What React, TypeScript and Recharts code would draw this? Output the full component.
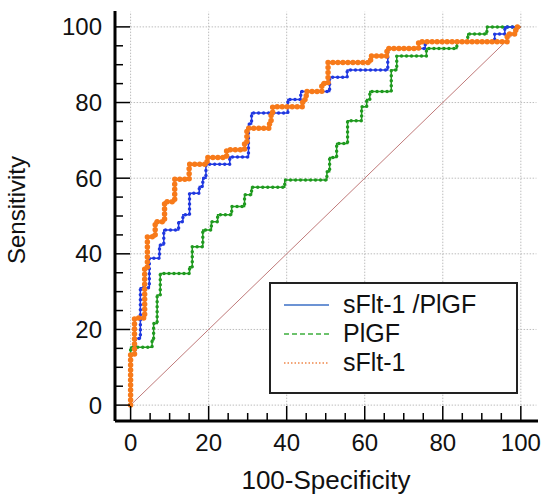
import { ComposedChart, Line, XAxis, YAxis, ReferenceLine, Legend } from 'recharts';

// staircase vertices: [100-specificity, sensitivity]
const ratioCurve = [
    [0, 0], [0, 13.5], [1.2, 13.5], [1.2, 17.6], [2.5, 17.6], [2.5, 31], [4.8, 31], [4.8, 38.8],
    [7.4, 38.8], [7.4, 42.3], [8.5, 42.3], [8.5, 46.3], [12.3, 46.3], [12.3, 48.5], [13.4, 48.5],
    [13.4, 50.3], [15.1, 50.3], [15.1, 56], [17.6, 56], [17.6, 57.8], [18.5, 57.8], [18.5, 60],
    [19.3, 60], [19.3, 63.7], [25.4, 63.7], [25.4, 65.6], [30.2, 65.6], [30.2, 74.3], [31, 74.3],
    [31, 77.2], [40.3, 77.2], [40.3, 80.8], [43.6, 80.8], [43.6, 82.9], [51, 82.9], [51, 86.7],
    [55.5, 86.7], [55.5, 88.6], [65.9, 88.6], [65.9, 94.3], [75.5, 94.3], [75.5, 96.1], [93.3, 96.1],
    [93.3, 98.1], [95.9, 98.1], [95.9, 100], [100, 100],
];

const plgfCurve = [
    [0, 0], [0, 15.3], [5.5, 15.3], [5.5, 17.2], [5.9, 17.2], [5.9, 21.6], [6.8, 21.6], [6.8, 29.1],
    [7.6, 29.1], [7.6, 34.8], [15.1, 34.8], [15.1, 36.6], [15.8, 36.6], [15.8, 41.9], [18.5, 41.9],
    [18.5, 46.3], [20.7, 46.3], [20.7, 48.5], [22.3, 48.5], [22.3, 50.3], [25.9, 50.3], [25.9, 52.5],
    [29.2, 52.5], [29.2, 55.6], [31, 55.6], [31, 57.6], [39.5, 57.6], [39.5, 59.5], [50.3, 59.5],
    [50.3, 61.7], [51, 61.7], [51, 65.5], [52.8, 65.5], [52.8, 69.2], [55.6, 69.2], [55.6, 75.2],
    [59.2, 75.2], [59.2, 78.9], [60.5, 78.9], [60.5, 80.8], [61.3, 80.8], [61.3, 82.9], [66.8, 82.9],
    [66.8, 88.6], [68.2, 88.6], [68.2, 92.3], [75.8, 92.3], [75.8, 94.3], [83.6, 94.3], [83.6, 96.1],
    [86.4, 96.1], [86.4, 98.1], [91.3, 98.1], [91.3, 100], [100, 100],
];

const sfltCurve = [
    [0, 0], [0, 13.5], [1, 13.5], [1, 23], [3.6, 23], [3.6, 36], [4.3, 36], [4.3, 44.5], [6.3, 44.5],
    [6.3, 48.5], [8.7, 48.5], [8.7, 53.8], [11.3, 53.8], [11.3, 59.7], [15, 59.7], [15, 63.7],
    [19.6, 63.7], [19.6, 65.5], [24.6, 65.5], [24.6, 67.5], [29.2, 67.5], [29.2, 69.3], [29.8, 69.3],
    [29.8, 73.2], [35.6, 73.2], [35.6, 75.2], [36, 75.2], [36, 77], [36.4, 77], [36.4, 78.9],
    [44.1, 78.9], [44.1, 80.8], [45, 80.8], [45, 82.9], [49, 82.9], [49, 85], [50.6, 85], [50.6, 90.6],
    [61.5, 90.6], [61.5, 92.3], [65.7, 92.3], [65.7, 94.3], [73.8, 94.3], [73.8, 96.1], [96.5, 96.1],
    [96.5, 98.1], [98.7, 98.1], [98.7, 100], [100, 100],
];

const diagonal = [[0, 0], [100, 100]];

const axisTicks = [0, 5, 10, 15, 20, 25, 30, 35, 40, 45, 50, 55, 60, 65, 70, 75, 80, 85, 90, 95, 100];
const gridValues = [0, 20, 40, 60, 80, 100];

const legendItems = [
    { name: 'sFlt-1 /PlGF', color: '#3b6fc6', dash: undefined },
    { name: 'PlGF', color: '#3cae3c', dash: '5 3' },
    { name: 'sFlt-1', color: '#f0874a', dash: '1.5 2' },
];

const toPoints = (pairs: number[][]) => pairs.map(([x, y]) => ({ x, y }));

const FONT = '"Liberation Sans", Arial, sans-serif';

const XTick = ({ x, y, payload }: any) => {
    const major = payload.value % 20 === 0;
    return (
        <g>
            <line x1={x} x2={x} y1={y} y2={y - (major ? 15 : 8)} stroke={'#000'} strokeWidth={1.5} />
            {major && (
                <text x={x} y={y + 30} textAnchor={'middle'} fontSize={24} fontFamily={FONT} fill={'#111'}>
                    {payload.value}
                </text>
            )}
        </g>
    );
};

const YTick = ({ x, y, payload }: any) => {
    const major = payload.value % 20 === 0;
    return (
        <g>
            <line x1={x} x2={x + (major ? 15 : 8)} y1={y} y2={y} stroke={'#000'} strokeWidth={1.5} />
            {major && (
                <text x={x - 13} y={y + 8.5} textAnchor={'end'} fontSize={24} fontFamily={FONT} fill={'#111'}>
                    {payload.value}
                </text>
            )}
        </g>
    );
};

const XTitle = () => (
    <text x={326} y={489} textAnchor={'middle'} fontSize={26} fontFamily={FONT} fill={'#111'}>
        100-Specificity
    </text>
);

const YTitle = () => (
    <text x={16} y={210} transform={'rotate(-90 16 210)'} textAnchor={'middle'} dy={8.5}
        fontSize={24} fontFamily={FONT} fill={'#111'}>
        Sensitivity
    </text>
);

const LegendBox = () => (
    <div style={{
        width: 245, height: 102, border: '2px solid #222', background: '#fff',
        fontFamily: FONT, fontSize: 25, color: '#111', paddingTop: 6, boxSizing: 'content-box',
    }}>
        {legendItems.map(item => (
            <div key={item.name} style={{ display: 'flex', alignItems: 'center', height: 29 }}>
                <svg width={72} height={10}>
                    <line x1={13} x2={58} y1={5} y2={5} stroke={item.color} strokeWidth={1.5}
                        strokeDasharray={item.dash} />
                </svg>
                <span>{item.name}</span>
            </div>
        ))}
    </div>
);

const stepLine = (key: string, data: { x: number; y: number }[], color: string, bead: number) => [
    <Line key={key + '-line'} data={data} dataKey={'y'} type={'linear'} stroke={color} strokeWidth={1.5}
        dot={false} activeDot={false} isAnimationActive={false} legendType={'none'} />,
    <Line key={key + '-dots'} data={data} dataKey={'y'} type={'linear'} stroke={color} strokeWidth={bead}
        strokeDasharray={'0 5'} strokeLinecap={'round'} dot={false} activeDot={false}
        isAnimationActive={false} legendType={'none'} />,
];

export default function App() {
    return (
        <div style={{ position: 'absolute', left: 0, top: 0, background: '#fff' }}>
            <ComposedChart width={550} height={501} margin={{ top: 11, right: 12, left: 114, bottom: 79 }}>
                <XAxis type={'number'} dataKey={'x'} domain={[-4, 104.4]} ticks={axisTicks} interval={0}
                    height={1} tickSize={0} tickMargin={0} tickLine={false} tick={<XTick />}
                    axisLine={{ stroke: '#000', strokeWidth: 3 }} allowDataOverflow label={<XTitle />} />
                <YAxis type={'number'} domain={[-4.2, 104.2]} ticks={axisTicks} interval={0}
                    width={1} tickSize={0} tickMargin={0} tickLine={false} tick={<YTick />}
                    axisLine={{ stroke: '#000', strokeWidth: 3 }} allowDataOverflow label={<YTitle />} />
                {gridValues.map(v => (
                    <ReferenceLine key={'h' + v} segment={[{ x: 0, y: v }, { x: 104, y: v }]}
                        stroke={'#bdbdbd'} strokeDasharray={'1.5 1.5'} />
                ))}
                {gridValues.map(v => (
                    <ReferenceLine key={'v' + v} segment={[{ x: v, y: 0 }, { x: v, y: 104 }]}
                        stroke={'#bdbdbd'} strokeDasharray={'1.5 1.5'} />
                ))}
                <Line data={toPoints(diagonal)} dataKey={'y'} type={'linear'} stroke={'#c07a7a'} strokeWidth={1}
                    dot={false} activeDot={false} isAnimationActive={false} legendType={'none'} />
                {stepLine('plgf', toPoints(plgfCurve), '#1f9a1f', 3.5)}
                {stepLine('ratio', toPoints(ratioCurve), '#2038e0', 3.5)}
                {stepLine('sflt', toPoints(sfltCurve), '#f77a1a', 5.5)}
                <Legend layout={'horizontal'} verticalAlign={'middle'} align={'center'}
                    wrapperStyle={{ left: 269, top: 282, width: 249, height: 108 }} content={<LegendBox />} />
            </ComposedChart>
        </div>
    );
}
